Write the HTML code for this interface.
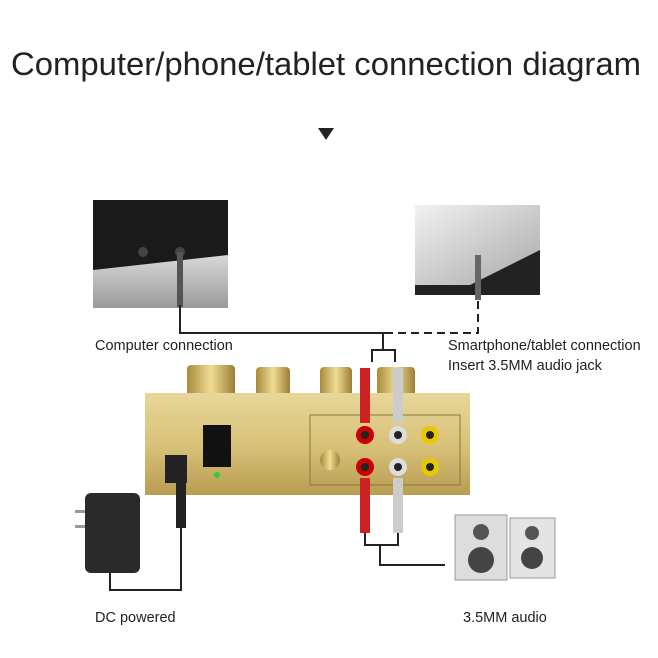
<!DOCTYPE html>
<html><head><meta charset="utf-8"><style>
html,body{margin:0;padding:0;background:#fff;}
svg{display:block;}
text{font-family:"Liberation Sans",sans-serif;fill:#222;}
</style></head><body>
<svg width="658" height="658" viewBox="0 0 658 658" xmlns="http://www.w3.org/2000/svg">
<defs>
<linearGradient id="gold" x1="0" y1="0" x2="0" y2="1"><stop offset="0" stop-color="#e8d79a"/><stop offset="0.5" stop-color="#d9c27a"/><stop offset="1" stop-color="#b89d52"/></linearGradient>
<linearGradient id="knob" x1="0" y1="0" x2="1" y2="0"><stop offset="0" stop-color="#a88b3a"/><stop offset="0.5" stop-color="#f0dc94"/><stop offset="1" stop-color="#9a7f33"/></linearGradient>
<linearGradient id="silver" x1="0" y1="0" x2="0" y2="1"><stop offset="0" stop-color="#d8d8d8"/><stop offset="1" stop-color="#9a9a9a"/></linearGradient>
<linearGradient id="phone" x1="0" y1="0" x2="1" y2="1"><stop offset="0" stop-color="#f2f2f2"/><stop offset="1" stop-color="#a8a8a8"/></linearGradient>
</defs>
<text x="326" y="75" font-size="32.5" text-anchor="middle" textLength="630" lengthAdjust="spacingAndGlyphs">Computer/phone/tablet connection diagram</text>
<polygon points="318,128 334,128 326,140" fill="#222"/>

<rect x="93" y="200" width="135" height="108" fill="#1a1a1a"/>
<polygon points="93,270 228,255 228,308 93,308" fill="url(#silver)"/>
<circle cx="143" cy="252" r="5" fill="#444"/><circle cx="180" cy="252" r="5" fill="#444"/>
<rect x="177" y="252" width="6" height="55" fill="#555"/>
<rect x="415" y="205" width="125" height="90" fill="#222"/>
<polygon points="415,205 540,205 540,250 470,285 415,285" fill="url(#phone)"/>
<rect x="475" y="255" width="6" height="45" fill="#666"/>

<path d="M180,305 V333 H385" stroke="#222" stroke-width="2" fill="none"/>
<path d="M385,333 H478 V300" stroke="#222" stroke-width="2" fill="none" stroke-dasharray="8,5"/>
<path d="M372,362 V350 H395 V362 M383,350 V333" stroke="#222" stroke-width="2" fill="none"/>
<text x="95" y="350" font-size="14.5">Computer connection</text>
<text x="448" y="350" font-size="14.5">Smartphone/tablet connection</text>
<text x="448" y="370" font-size="14.5">Insert 3.5MM audio jack</text>

<rect x="187" y="365" width="48" height="32" rx="4" fill="url(#knob)"/>
<rect x="256" y="367" width="34" height="30" rx="4" fill="url(#knob)"/>
<rect x="320" y="367" width="32" height="30" rx="4" fill="url(#knob)"/>
<rect x="377" y="367" width="38" height="30" rx="4" fill="url(#knob)"/>
<rect x="145" y="393" width="325" height="102" fill="url(#gold)"/>
<rect x="203" y="425" width="28" height="42" fill="#111"/>
<circle cx="217" cy="475" r="3" fill="#3c3"/>
<rect x="165" y="455" width="22" height="28" fill="#222"/>
<rect x="310" y="415" width="150" height="70" fill="none" stroke="#8a7538"/>
<circle cx="330" cy="460" r="10" fill="url(#knob)"/>
<circle cx="365" cy="435" r="9" fill="#c00"/><circle cx="365" cy="435" r="4" fill="#222"/>
<circle cx="398" cy="435" r="9" fill="#ddd"/><circle cx="398" cy="435" r="4" fill="#222"/>
<circle cx="365" cy="467" r="9" fill="#c00"/><circle cx="365" cy="467" r="4" fill="#222"/>
<circle cx="398" cy="467" r="9" fill="#ddd"/><circle cx="398" cy="467" r="4" fill="#222"/>
<circle cx="430" cy="435" r="9" fill="#e8c800"/><circle cx="430" cy="435" r="4" fill="#222"/>
<circle cx="430" cy="467" r="9" fill="#e8c800"/><circle cx="430" cy="467" r="4" fill="#222"/>
<rect x="360" y="368" width="10" height="55" fill="#c22"/><rect x="393" y="368" width="10" height="55" fill="#ccc"/>
<rect x="360" y="478" width="10" height="55" fill="#c22"/><rect x="393" y="478" width="10" height="55" fill="#ccc"/>
<path d="M365,533 V545 H398 V533 M380,545 V565 H445" stroke="#222" stroke-width="2" fill="none"/>
<rect x="176" y="483" width="10" height="45" fill="#222"/>
<path d="M181,528 V590 H110 V560" stroke="#222" stroke-width="2" fill="none"/>
<rect x="85" y="493" width="55" height="80" rx="6" fill="#2a2a2a"/>
<rect x="75" y="510" width="10" height="3" fill="#999"/><rect x="75" y="525" width="10" height="3" fill="#999"/>
<rect x="455" y="515" width="52" height="65" fill="#ddd" stroke="#999"/>
<circle cx="481" cy="532" r="8" fill="#555"/><circle cx="481" cy="560" r="13" fill="#444"/>
<rect x="510" y="518" width="45" height="60" fill="#e4e4e4" stroke="#999"/>
<circle cx="532" cy="533" r="7" fill="#555"/><circle cx="532" cy="558" r="11" fill="#444"/>
<text x="95" y="622" font-size="14.5">DC powered</text>
<text x="463" y="622" font-size="14.5">3.5MM audio</text>
</svg>
</body></html>
